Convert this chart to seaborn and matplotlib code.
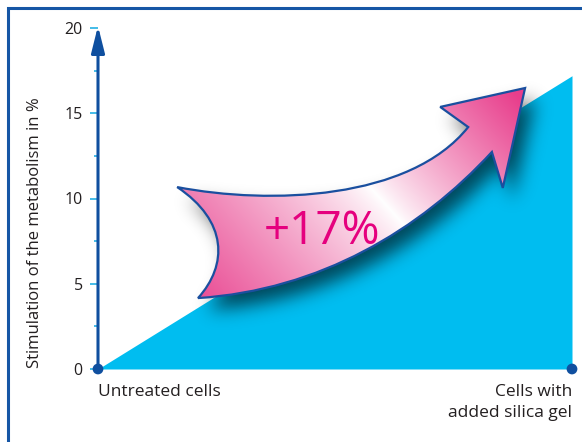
import numpy as np
import matplotlib
matplotlib.use('Agg')
import matplotlib.pyplot as plt
import seaborn as sns
from matplotlib.path import Path
from matplotlib.patches import PathPatch, Rectangle

# datos
categorias = ['Untreated cells', 'Cells with\nadded silica gel']
posiciones = [0, 1]
estimulacion = [0, 17.2]        # % de estimulacion del metabolismo
etiqueta_flecha = '+17%'
yticks = [0, 5, 10, 15, 20]
yticks_menores = [2.5, 7.5, 12.5, 17.5]

azul_oscuro = '#0f4f9f'
cian = '#00bdf0'
azul_tick = '#35b6e6'
rosa = np.array([232, 62, 140]) / 255
texto = '#231f20'

sns.set_style('white')
plt.rcParams['font.family'] = ['Open Sans', 'DejaVu Sans']

fig = plt.figure(figsize=(5.82, 4.42), dpi=100)
ax = fig.add_axes([98 / 582, 73 / 442, 474 / 582, 341 / 442])
ax.set_xlim(0, 1)
ax.set_ylim(0, 20)

# triangulo azul
ax.fill_between(posiciones, 0, estimulacion, color=cian, lw=0, zorder=1)

# flecha curva (decoracion) en coordenadas de datos
verts = [(0.167, 10.67),
         (0.363, 9.62), (0.658, 9.91), (0.781, 14.19),
         (0.722, 15.37), (0.901, 16.48), (0.854, 10.62), (0.831, 12.73),
         (0.679, 8.15), (0.468, 4.63), (0.211, 4.16),
         (0.274, 6.10), (0.274, 8.68), (0.167, 10.67),
         (0.167, 10.67)]
codes = [Path.MOVETO,
         Path.CURVE4, Path.CURVE4, Path.CURVE4,
         Path.LINETO, Path.LINETO, Path.LINETO, Path.LINETO,
         Path.CURVE4, Path.CURVE4, Path.CURVE4,
         Path.CURVE4, Path.CURVE4, Path.CURVE4,
         Path.CLOSEPOLY]
flecha = Path(verts, codes)

# rejilla en pixeles para sombra y degradado
nx, ny = 474, 341
gx = (np.arange(nx) + 0.5) / nx
gy = (np.arange(ny) + 0.5) / ny * 20
GX, GY = np.meshgrid(gx, gy)
pts = ax.transData.transform(np.column_stack([GX.ravel(), GY.ravel()]))
PX = pts[:, 0].reshape(ny, nx)
PY = pts[:, 1].reshape(ny, nx)

# sombra difuminada
flecha_disp = ax.transData.transform_path(flecha)
sombra_path = Path(flecha_disp.vertices + np.array([10, -12]), flecha_disp.codes)
mask = sombra_path.contains_points(pts).reshape(ny, nx).astype(float)
sigma = 9
k = np.arange(-3 * sigma, 3 * sigma + 1)
kern = np.exp(-k ** 2 / (2 * sigma ** 2))
kern /= kern.sum()
blur = np.apply_along_axis(lambda r: np.convolve(r, kern, mode='same'), 1, mask)
blur = np.apply_along_axis(lambda c: np.convolve(c, kern, mode='same'), 0, blur)
sombra = np.zeros((ny, nx, 4))
sombra[..., 3] = np.clip(blur * 0.62, 0, 1)
ax.imshow(sombra, extent=(0, 1, 0, 20), origin='lower', aspect='auto',
          zorder=2, interpolation='bilinear')

# degradado rosa-blanco-rosa
centro = ax.transData.transform((0.627, 9.03))
s = (PX - centro[0]) + 0.9 * (PY - centro[1])
f = np.where(s < 0, -s / 300, s / 230)
f = np.clip(f, 0, 1) ** 0.85
grad = np.ones((ny, nx, 3)) * (1 - f[..., None]) + rosa * f[..., None]
contorno = PathPatch(flecha, fc='none', ec='#1a4f9f', lw=1.6, zorder=4,
                     transform=ax.transData)
ax.add_patch(contorno)
im = ax.imshow(grad, extent=(0, 1, 0, 20), origin='lower', aspect='auto',
               zorder=3, interpolation='bilinear')
im.set_clip_path(contorno)

ax.text(0.4726, 8.04, etiqueta_flecha, fontsize=33, color='#e5007e',
        ha='center', va='center', zorder=5)

# eje y con flecha
ax.annotate('', xy=(0, 20.12), xytext=(0, 0), xycoords='data',
            arrowprops=dict(arrowstyle='-|>,head_length=1.6,head_width=0.4',
                            mutation_scale=10, lw=2.2, color=azul_oscuro,
                            shrinkA=0, shrinkB=0),
            annotation_clip=False, zorder=6)

# puntos
sns.scatterplot(x=posiciones, y=[0, 0], s=60, color=azul_oscuro,
                edgecolor='none', clip_on=False, zorder=7, ax=ax)

for sp in ax.spines.values():
    sp.set_visible(False)

ax.set_yticks(yticks)
ax.set_yticks(yticks_menores, minor=True)
ax.tick_params(axis='y', which='major', length=6, width=1.3, color=azul_tick,
               labelsize=11.5, labelcolor=texto, pad=5, left=True)
ax.tick_params(axis='y', which='minor', length=3, width=1.3, color=azul_tick, left=True)
ax.set_xticks(posiciones, categorias)
ax.tick_params(axis='x', length=0, labelsize=12.5, labelcolor=texto, pad=10.5)
labs = ax.get_xticklabels()
labs[0].set_ha('left')
labs[1].set_ha('right')
labs[1].set_multialignment('right')
labs[1].set_linespacing(1.45)

ax.set_ylabel('Stimulation of the metabolism in %', fontsize=12, color=texto)
ax.yaxis.set_label_coords(-0.116, 0.40)
ax.grid(False)

# marco
fig.add_artist(Rectangle((8 / 582, -0.5), 2, 1 - 8 / 442 + 0.5,
                         transform=fig.transFigure, fill=False,
                         ec='#1656a5', lw=2.2))

fig.savefig('out.png', dpi=100)
plt.close()
